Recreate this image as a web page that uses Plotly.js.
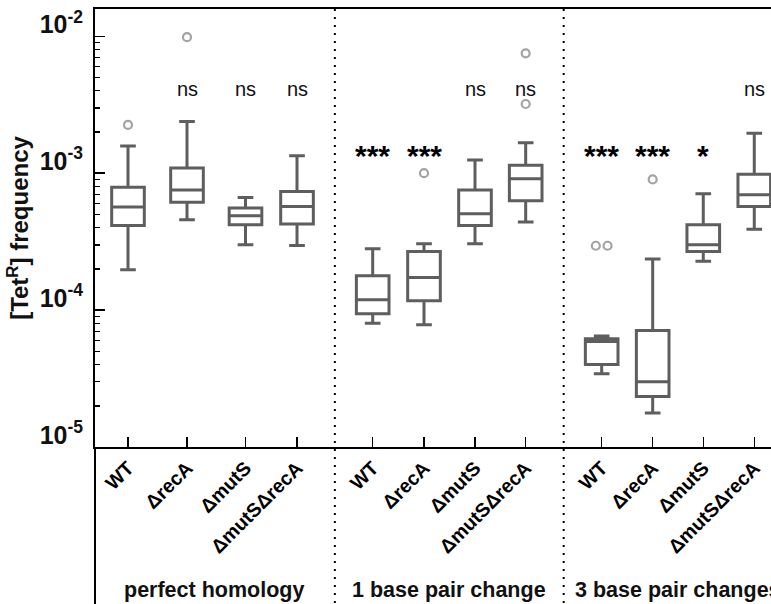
<!DOCTYPE html>
<html>
<head>
<meta charset="utf-8">
<script src="https://cdn.plot.ly/plotly-3.0.1.min.js"></script>
<style>html,body{margin:0;padding:0;background:#fff;}#chart{width:771px;height:604px;}</style>
</head>
<body>
<div id="chart"></div>
<script>
// ---------- data ----------
const groups = ['perfect homology', '1 base pair change', '3 base pair changes'];
const strains = ['WT', 'ΔrecA', 'ΔmutS', 'ΔmutSΔrecA'];

const lowerWhisker = [1.97e-4, 4.56e-4, 3.0e-4, 2.96e-4,
                      8.0e-5, 7.8e-5, 3.05e-4, 4.4e-4,
                      3.43e-5, 1.77e-5, 2.27e-4, 3.9e-4];
const q1 = [4.15e-4, 6.13e-4, 4.2e-4, 4.25e-4,
            9.4e-5, 1.17e-4, 4.15e-4, 6.3e-4,
            4.0e-5, 2.34e-5, 2.68e-4, 5.7e-4];
const median = [5.65e-4, 7.55e-4, 4.88e-4, 5.7e-4,
                1.19e-4, 1.73e-4, 5.05e-4, 9.1e-4,
                5.9e-5, 3.0e-5, 3.0e-4, 6.95e-4];
const q3 = [7.9e-4, 1.09e-3, 5.56e-4, 7.34e-4,
            1.78e-4, 2.68e-4, 7.55e-4, 1.14e-3,
            6.17e-5, 7.1e-5, 4.2e-4, 9.83e-4];
const upperWhisker = [1.58e-3, 2.38e-3, 6.64e-4, 1.34e-3,
                      2.8e-4, 3.05e-4, 1.25e-3, 1.67e-3,
                      6.48e-5, 2.36e-4, 7.06e-4, 1.96e-3];
const outliers = [[2.25e-3], [9.85e-3], [], [],
                  [], [1.0e-3], [], [7.5e-3, 3.2e-3],
                  [2.95e-4, 2.95e-4], [9.0e-4], [], []];
const significance = ['', 'ns', 'ns', 'ns',
                      '***', '***', 'ns', 'ns',
                      '***', '***', '*', 'ns'];
const yTickValues = [1e-5, 1e-4, 1e-3, 1e-2];
const yTickLabels = ['10<sup>-5</sup>', '10<sup>-4</sup>', '10<sup>-3</sup>', '10<sup>-2</sup>'];

// ---------- layout helpers ----------
const slotPositions = [0, 1.157, 2.304, 3.314, 4.798, 5.804, 6.804, 7.798, 9.288, 10.288, 11.28, 12.28];
const FONT = 'Liberation Sans, Arial, Helvetica, sans-serif';
const BOXCOLOR = '#5e5e5e';
const OUTCOLOR = '#a3a3a3';

const categoryLabels = [];
for (let g = 0; g < groups.length; g++) for (let s = 0; s < strains.length; s++) categoryLabels.push(strains[s]);

const boxTrace = {
  type: 'box',
  x: slotPositions,
  q1: q1, median: median, q3: q3,
  lowerfence: lowerWhisker, upperfence: upperWhisker,
  boxpoints: false,
  width: 0.64,
  whiskerwidth: 0.48,
  line: {color: BOXCOLOR, width: 3},
  fillcolor: 'rgba(255,255,255,0)',
  hoverinfo: 'skip'
};

// outliers: identical values are spread side by side
const ox = [], oy = [];
outliers.forEach((vals, i) => {
  vals.forEach((v, j) => {
    const same = vals.filter(w => w === v);
    const k = vals.slice(0, j).filter(w => w === v).length;
    const off = (k - (same.length - 1) / 2) * 0.23;
    ox.push(slotPositions[i] + off);
    oy.push(v);
  });
});
const outlierTrace = {
  type: 'scatter', mode: 'markers', x: ox, y: oy,
  marker: {symbol: 'circle-open', size: 8, color: OUTCOLOR, line: {width: 2.2, color: OUTCOLOR}},
  hoverinfo: 'skip', cliponaxis: false
};

// minor log ticks
const minorTicks = [];
for (let e = -5; e <= -2; e++) for (let d = 2; d <= 9; d++) minorTicks.push(d * Math.pow(10, e));

const annotations = [];
significance.forEach((t, i) => {
  if (!t) return;
  const isStar = t.indexOf('*') >= 0;
  annotations.push({
    x: slotPositions[i], xref: 'x', yref: 'y',
    y: isStar ? -2.873 : -2.385,
    text: t, showarrow: false, xanchor: 'center', yanchor: 'middle',
    font: isStar ? {family: FONT, size: 30, color: '#000', weight: 'bold'} : {family: FONT, size: 20, color: '#111'}
  });
});
groups.forEach((g, gi) => {
  const pos = slotPositions.slice(gi * 4, gi * 4 + 4);
  const c = pos.reduce((a, b) => a + b, 0) / pos.length;
  annotations.push({
    x: c, xref: 'x', y: -0.3265, yref: 'paper', text: g, showarrow: false,
    xanchor: 'center', yanchor: 'middle',
    font: {family: FONT, size: 21.5, color: '#111', weight: 'bold'}
  });
});

const shapes = [
  {type: 'line', xref: 'paper', yref: 'paper', x0: 0, x1: 0, y0: 0, y1: -0.37,
   line: {color: '#000', width: 2}}
];
for (let g = 1; g < groups.length; g++) {
  const mid = (slotPositions[g * 4 - 1] + slotPositions[g * 4]) / 2;
  shapes.push({type: 'line', xref: 'x', yref: 'paper', x0: mid, x1: mid, y0: 1, y1: -0.37,
               line: {color: '#000', width: 2, dash: '2px,6px'}});
}

const layout = {
  width: 771, height: 604,
  margin: {l: 95, r: 0, t: 9, b: 157, pad: 0},
  paper_bgcolor: '#fff', plot_bgcolor: '#fff',
  showlegend: false, hovermode: false,
  xaxis: {
    range: [-0.647, 12.608], showgrid: false, zeroline: false,
    showline: true, linecolor: '#000', linewidth: 2, mirror: true,
    ticks: 'inside', ticklen: 10, tickwidth: 1.5, tickcolor: '#000',
    tickmode: 'array', tickvals: slotPositions, ticktext: categoryLabels,
    tickangle: -45,
    tickfont: {family: FONT, size: 19.5, color: '#000', weight: 'bold'}
  },
  yaxis: {
    type: 'log', range: [-5, -1.801], showgrid: false, zeroline: false,
    showline: true, linecolor: '#000', linewidth: 2,
    ticks: 'inside', ticklen: 10, tickwidth: 1.5, tickcolor: '#000',
    tickmode: 'array', tickvals: yTickValues, ticktext: yTickLabels,
    tickfont: {family: FONT, size: 25, color: '#111', weight: 'bold'},
    ticklabelshift: -12, ticklabelstandoff: 5,
    minor: {tickmode: 'array', tickvals: minorTicks, ticks: 'inside', ticklen: 5, tickwidth: 1.5, tickcolor: '#000', showgrid: false},
    title: {text: '[Tet<sup>R</sup>] frequency', standoff: 4,
            font: {family: FONT, size: 24, color: '#111', weight: 'bold'}}
  },
  annotations: annotations,
  shapes: shapes
};

Plotly.newPlot('chart', [boxTrace, outlierTrace], layout, {displayModeBar: false, staticPlot: true});
</script>
</body>
</html>
